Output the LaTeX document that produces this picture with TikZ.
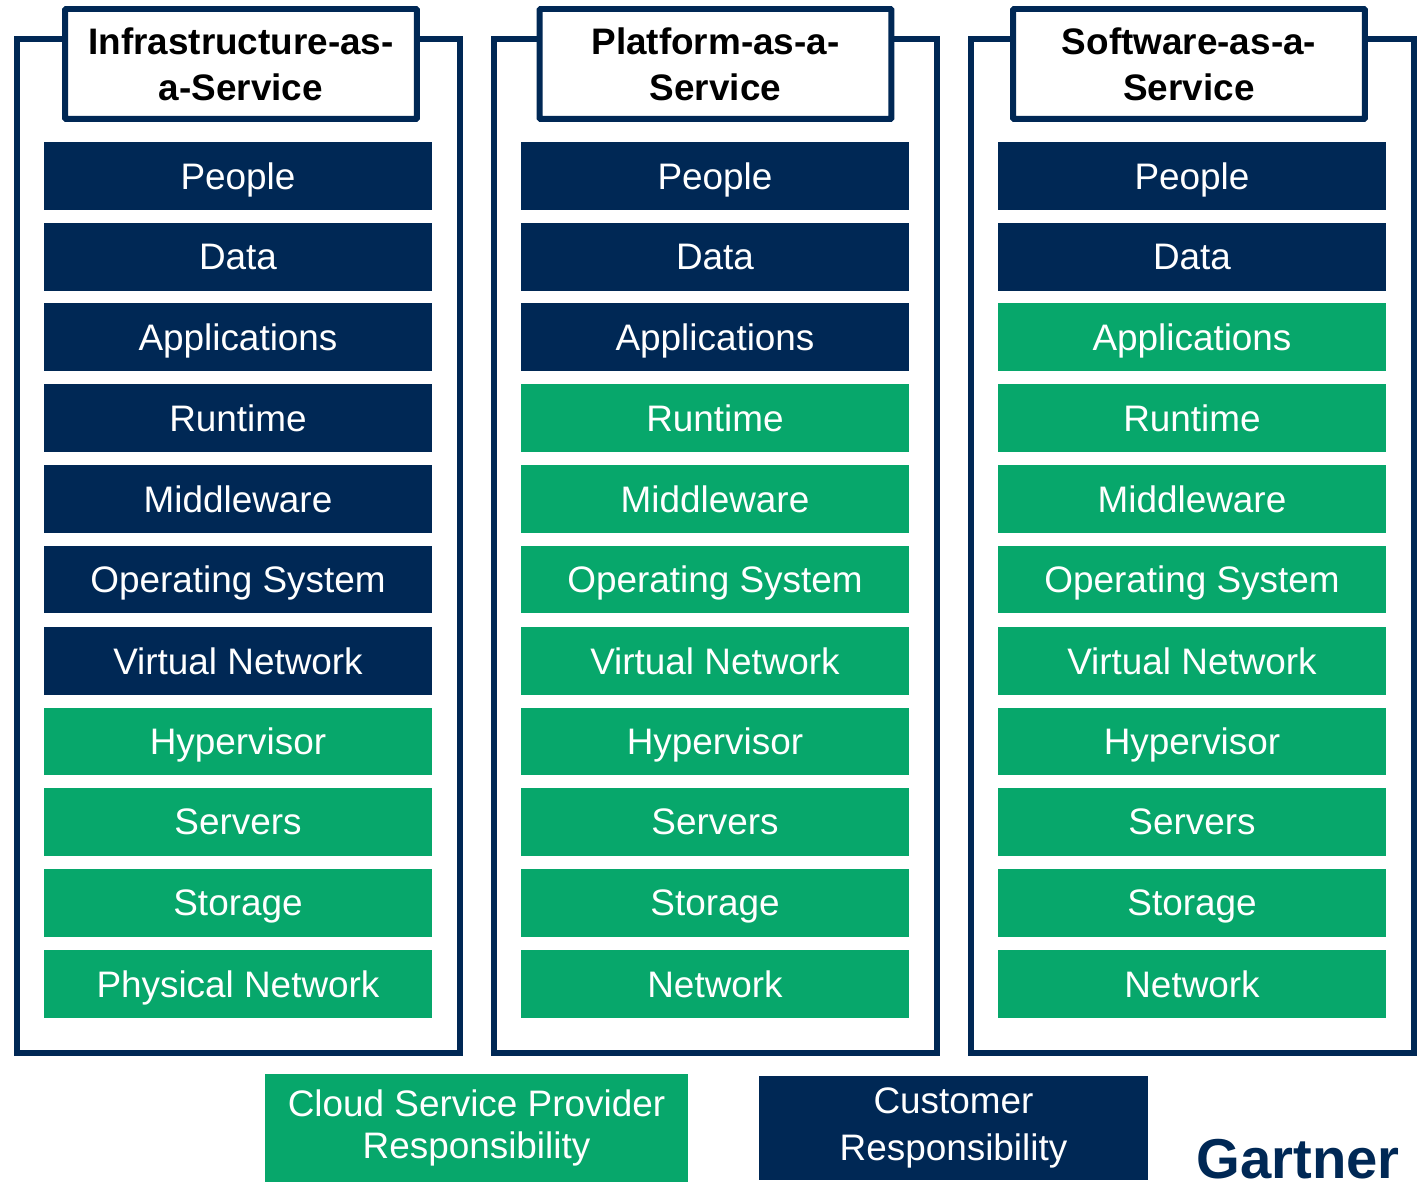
\documentclass[tikz,border=0pt]{standalone}
\usepackage{fontspec}
\setmainfont{Liberation Sans}
\definecolor{navy}{HTML}{002855}
\definecolor{green}{HTML}{07A76B}
\tikzset{
  frame/.style={draw=navy, line width=3pt, minimum width=8.86cm, minimum height=20.28cm, inner sep=0pt},
  head/.style={draw=navy, fill=white, line width=3.4pt, rounded corners=0.6pt, minimum width=7.04cm, minimum height=2.2cm, inner sep=0pt, align=center, text=black, font=\fontsize{21}{26}\selectfont\bfseries},
  row/.style={minimum width=7.78cm, minimum height=1.36cm, inner sep=0pt, text=white, text depth=0pt, font=\fontsize{21}{25}\selectfont},
  cust/.style={row, fill=navy},
  prov/.style={row, fill=green},
  legend/.style={inner sep=0pt, text=white, align=center},
}
\begin{document}
\begin{tikzpicture}[x=0.02cm,y=-0.02cm]
  \useasboundingbox (0,0) rectangle (1424,1182);
  \def\xa{238}
  \def\xb{715}
  \def\xc{1192}
  % frames and titles
  \node[frame] (iaasFrame) at (238.5,546) {};
  \node[frame] (paasFrame) at (715.5,546) {};
  \node[frame] (saasFrame) at (1192.5,546) {};
  \node[head] (iaasHead) at (241,64) {Infrastructure-as-\\a-Service};
  \node[head] (paasHead) at (715.5,64) {Platform-as-a-\\Service};
  \node[head] (saasHead) at (1189,64) {Software-as-a-\\Service};
  % first column
  \node[cust] (iaasPeople) at (\xa,176) {People};
  \node[cust] (iaasData) at (\xa,257) {Data};
  \node[cust] (iaasApps) at (\xa,337) {Applications};
  \node[cust] (iaasRuntime) at (\xa,418) {Runtime};
  \node[cust] (iaasMiddle) at (\xa,499) {Middleware};
  \node[cust] (iaasOs) at (\xa,579.5) {Operating System};
  \node[cust] (iaasVnet) at (\xa,661) {Virtual Network};
  \node[prov] (iaasHyper) at (\xa,741.5) {Hypervisor};
  \node[prov] (iaasServers) at (\xa,822) {Servers};
  \node[prov] (iaasStorage) at (\xa,903) {Storage};
  \node[prov] (iaasNet) at (\xa,984) {Physical Network};
  % second column
  \node[cust] (paasPeople) at (\xb,176) {People};
  \node[cust] (paasData) at (\xb,257) {Data};
  \node[cust] (paasApps) at (\xb,337) {Applications};
  \node[prov] (paasRuntime) at (\xb,418) {Runtime};
  \node[prov] (paasMiddle) at (\xb,499) {Middleware};
  \node[prov] (paasOs) at (\xb,579.5) {Operating System};
  \node[prov] (paasVnet) at (\xb,661) {Virtual Network};
  \node[prov] (paasHyper) at (\xb,741.5) {Hypervisor};
  \node[prov] (paasServers) at (\xb,822) {Servers};
  \node[prov] (paasStorage) at (\xb,903) {Storage};
  \node[prov] (paasNet) at (\xb,984) {Network};
  % third column
  \node[cust] (saasPeople) at (\xc,176) {People};
  \node[cust] (saasData) at (\xc,257) {Data};
  \node[prov] (saasApps) at (\xc,337) {Applications};
  \node[prov] (saasRuntime) at (\xc,418) {Runtime};
  \node[prov] (saasMiddle) at (\xc,499) {Middleware};
  \node[prov] (saasOs) at (\xc,579.5) {Operating System};
  \node[prov] (saasVnet) at (\xc,661) {Virtual Network};
  \node[prov] (saasHyper) at (\xc,741.5) {Hypervisor};
  \node[prov] (saasServers) at (\xc,822) {Servers};
  \node[prov] (saasStorage) at (\xc,903) {Storage};
  \node[prov] (saasNet) at (\xc,984) {Network};
  % legend
  \node[legend, fill=green, minimum width=8.46cm, minimum height=2.16cm, font=\fontsize{21}{24.4}\selectfont] (provKey) at (476.5,1128) {Cloud Service Provider\\Responsibility};
  \node[legend, fill=navy, minimum width=7.78cm, minimum height=2.08cm, font=\fontsize{21}{26.6}\selectfont] (custKey) at (953.5,1128) {Customer\\Responsibility};
  \node[inner sep=0pt, text=navy, font=\fontsize{32}{32}\selectfont\bfseries] (logo) at (1298,1159) {Gartner};
\end{tikzpicture}
\end{document}
